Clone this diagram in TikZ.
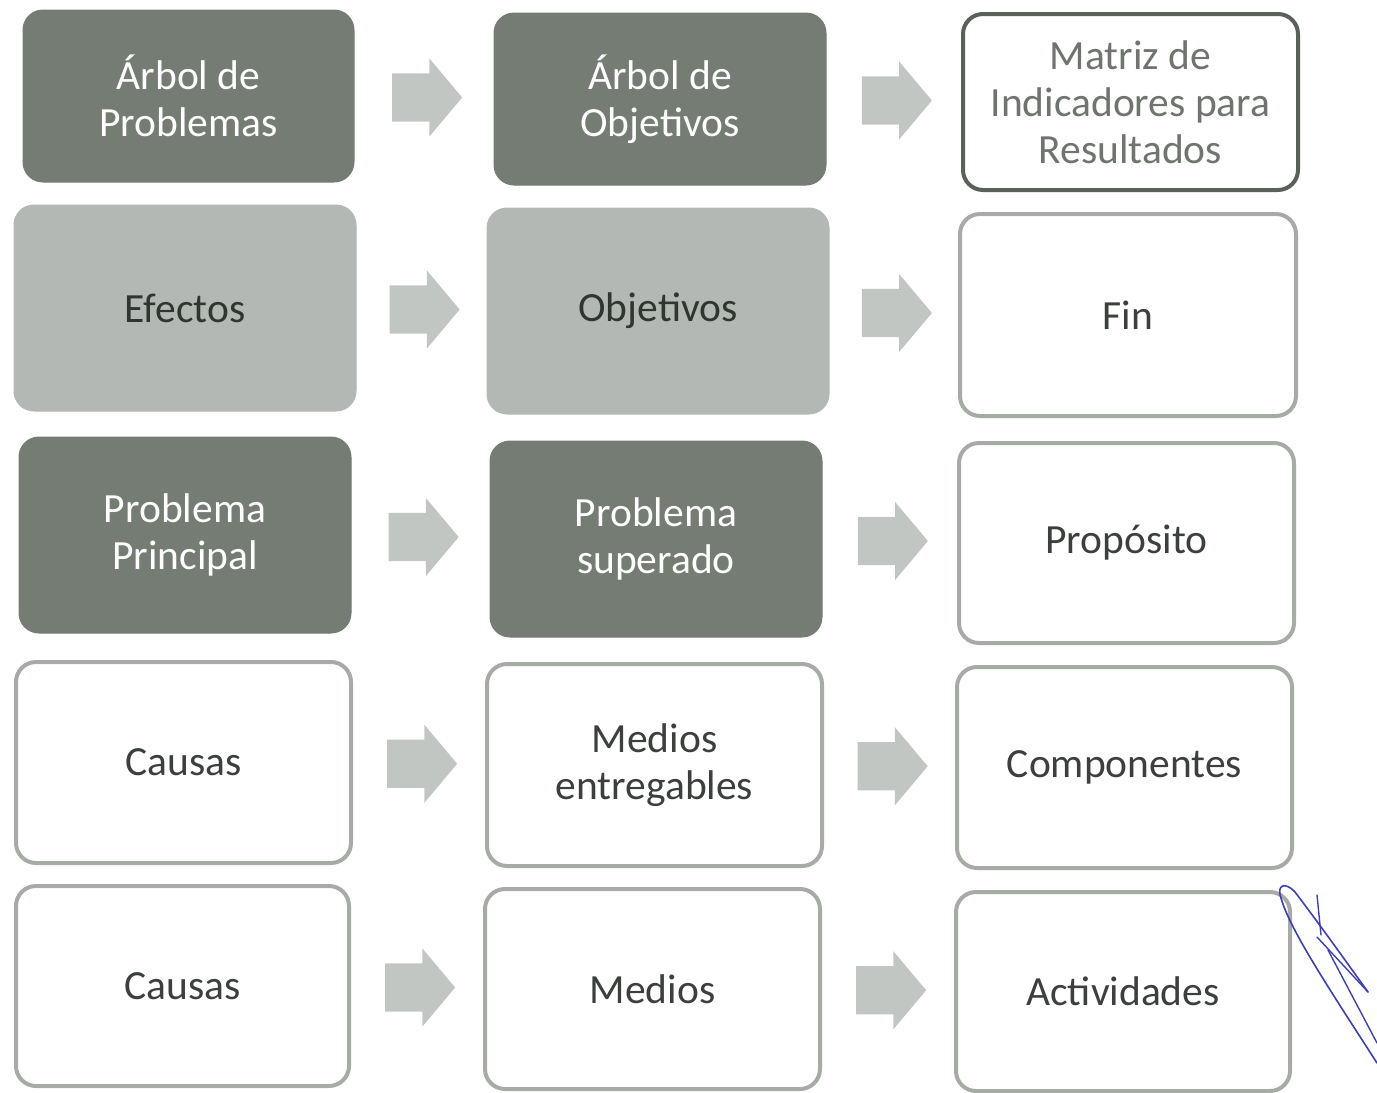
\documentclass[tikz,border=0pt]{standalone}
\usepackage{fontspec}
\setmainfont{Carlito}
\usetikzlibrary{shapes.arrows,calc}
\definecolor{darkfill}{HTML}{747C74}
\definecolor{midfill}{HTML}{B4B8B4}
\definecolor{arrowfill}{HTML}{C2C6C2}
\definecolor{lightline}{HTML}{A6ABA6}
\definecolor{strongline}{HTML}{5A605A}
\definecolor{midtext}{HTML}{2F352F}
\definecolor{lighttext}{HTML}{3C403C}
\definecolor{titletext}{HTML}{6F746F}
\definecolor{ink}{HTML}{3D3FB8}
\begin{document}
\begin{tikzpicture}[x=1pt,y=-1pt,
  box/.style={rounded corners=20pt, align=center, inner sep=0pt,
    font=\fontsize{41.5}{47}\selectfont},
  darkbox/.style={box, fill=darkfill, draw=darkfill, line width=1pt, text=white},
  midbox/.style={box, fill=midfill, draw=midfill, line width=1pt, text=midtext},
  lightbox/.style={box, fill=white, draw=lightline, line width=4pt, text=lighttext},
  titlebox/.style={box, fill=white, draw=strongline, line width=4pt, text=titletext},
  sz/.style 2 args={minimum width=#1pt, minimum height=#2pt},
  blockarrow/.style={single arrow, fill=arrowfill, draw=none, inner xsep=0pt, inner ysep=24pt,
    single arrow head extend=15pt, single arrow tip angle=100, minimum height=70pt,
    xshift=-7pt}
]
\useasboundingbox (0,0) rectangle (1377,1093);

% row 1
\node[darkbox, sz={331}{172}] (a1) at (188.5,96) {Árbol de\\Problemas};
\node[darkbox, sz={332}{172}] (b1) at (660,99) {Árbol de\\Objetivos};
\node[titlebox, sz={335}{176}] (c1) at (1130.5,102) {Matriz de\\Indicadores para\\Resultados};
% row 2
\node[midbox, sz={342}{206}] (a2) at (185,308) {Efectos};
\node[midbox, sz={342}{206}] (b2) at (658,311) {Objetivos};
\node[lightbox, sz={336}{202}] (c2) at (1128,315) {Fin};
% row 3
\node[darkbox, sz={332}{196}] (a3) at (185,535) {Problema\\Principal};
\node[darkbox, sz={332}{196}] (b3) at (656,539) {Problema\\superado};
\node[lightbox, sz={335}{200}] (c3) at (1126.5,543) {Propósito};
% row 4
\node[lightbox, sz={335}{201}] (a4) at (183.5,762.5) {Causas};
\node[lightbox, sz={335}{202}] (b4) at (654.5,765) {Medios\\entregables};
\node[lightbox, sz={335}{201}] (c4) at (1124.5,767.5) {Componentes};
% row 5
\node[lightbox, sz={333}{200}] (a5) at (182.5,986) {Causas};
\node[lightbox, sz={335}{200}] (b5) at (652.5,989) {Medios};
\node[lightbox, sz={334}{199}] (c5) at (1123,991.5) {Actividades};

% arrows
\foreach \r in {1,...,5}{
  \node[blockarrow] (ab\r) at ($(a\r.east)!0.5!(b\r.west)$) {};
  \node[blockarrow] (bc\r) at ($(b\r.east)!0.5!(c\r.west)$) {};
}

% handwritten mark
\draw[ink, line width=1.6pt, line cap=round, line join=round]
  (1377,1063) .. controls (1330,990) and (1290,930) .. (1281,898)
  .. controls (1276,884) and (1286,882) .. (1295,892)
  .. controls (1320,925) and (1345,960) .. (1368,992);
\draw[ink, line width=1.4pt, line cap=round]
  (1317,895) -- (1321,935);
\draw[ink, line width=1.4pt, line cap=round]
  (1317,937) -- (1368,992);
\draw[ink, line width=1.4pt, line cap=round]
  (1328,950) -- (1377,1043);
\end{tikzpicture}
\end{document}
